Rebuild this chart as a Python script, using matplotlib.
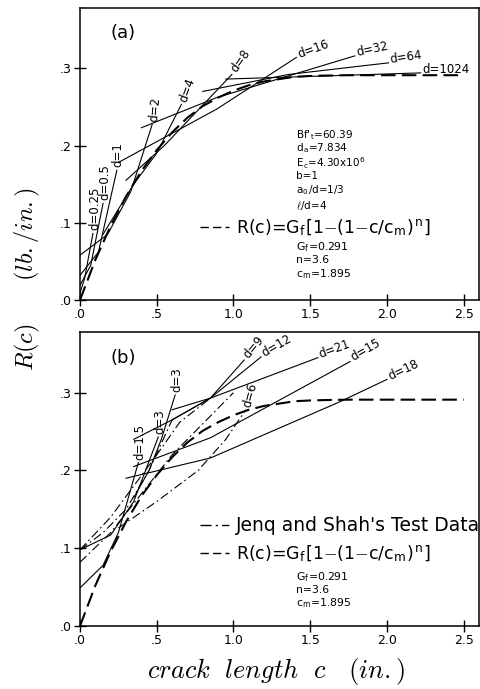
import matplotlib
matplotlib.use('Agg')
import matplotlib.pyplot as plt
from matplotlib.lines import Line2D

plt.rcParams['mathtext.fontset'] = 'cm'
plt.rcParams['font.family'] = 'DejaVu Sans'

# R-curve, same in both panels
r_c = [0.0, 0.1, 0.2, 0.3, 0.4, 0.5, 0.6, 0.7, 0.8, 0.9, 1.0, 1.1, 1.2,
       1.3, 1.4, 1.5, 1.6, 1.75, 1.9, 2.5]
r_val = [0.0, 0.052, 0.096, 0.134, 0.167, 0.194, 0.217, 0.236, 0.251,
         0.262, 0.271, 0.278, 0.283, 0.286, 0.289, 0.290, 0.2905, 0.291,
         0.291, 0.291]

# panel (a): G curves for several sizes d
a_labels = ['d=0.25', 'd=0.5', 'd=1', 'd=2', 'd=4', 'd=8', 'd=16',
            'd=32', 'd=64', 'd=1024']
a_c = [[0.0, 0.03, 0.084],
       [0.0, 0.07, 0.15],
       [0.0, 0.12, 0.24],
       [0.0, 0.18, 0.33, 0.47],
       [0.15, 0.35, 0.5, 0.66],
       [0.3, 0.55, 0.99],
       [0.25, 0.89, 1.41],
       [0.40, 0.89, 1.79],
       [0.8, 1.36, 2.01],
       [0.95, 2.22]]
a_r = [[0.009, 0.028, 0.086],
       [0.019, 0.045, 0.125],
       [0.032, 0.062, 0.168],
       [0.058, 0.085, 0.14, 0.227],
       [0.085, 0.15, 0.19, 0.253],
       [0.155, 0.2, 0.292],
       [0.178, 0.247, 0.314],
       [0.223, 0.262, 0.316],
       [0.27, 0.292, 0.307],
       [0.286, 0.294]]
a_rot = [90, 90, 90, 85, 70, 55, 20, 12, 8, 0]

# panel (b): sizes of Jenq and Shah's specimens
b_labels = ['d=1.5', 'd=3', 'd=3', 'd=9', 'd=12', 'd=21', 'd=15', 'd=18']
b_c = [[0.0, 0.15, 0.25, 0.38],
       [0.0, 0.2, 0.35, 0.51],
       [0.35, 0.45, 0.53, 0.62],
       [0.6, 0.85, 1.07],
       [0.6, 0.85, 1.18],
       [0.35, 0.6, 0.85, 1.55],
       [0.35, 0.85, 1.76],
       [0.3, 0.85, 1.69, 2.0]]
b_r = [[0.049, 0.078, 0.12, 0.21],
       [0.098, 0.117, 0.16, 0.243],
       [0.165, 0.2, 0.24, 0.297],
       [0.265, 0.293, 0.342],
       [0.278, 0.293, 0.346],
       [0.24, 0.265, 0.293, 0.345],
       [0.205, 0.242, 0.34],
       [0.19, 0.216, 0.288, 0.317]]
b_rot = [90, 90, 90, 50, 30, 20, 30, 25]

# Jenq and Shah's test data (dash-dot)
js_label = 'd=6'
js_c = [[0.0, 0.2, 0.35, 0.5, 0.65, 0.85],
        [0.0, 0.2, 0.4, 0.6, 0.85, 1.0],
        [0.25, 0.5, 0.77, 0.95, 1.08],
        [0.0, 0.15, 0.3, 0.45, 0.6]]
js_r = [[0.098, 0.14, 0.18, 0.22, 0.262, 0.293],
        [0.082, 0.12, 0.17, 0.22, 0.27, 0.30],
        [0.126, 0.16, 0.2, 0.24, 0.278],
        [0.098, 0.12, 0.15, 0.2, 0.265]]

formula = r'R(c)=G$_\mathregular{f}$[1$-$(1$-$c/c$_\mathregular{m}$)$^\mathregular{n}$]'

fig = plt.figure(figsize=(4.8, 6.89), dpi=100)
ax1 = fig.add_axes([80/480, 1 - 300/689, 399/480, 292/689])
ax2 = fig.add_axes([80/480, 1 - 626/689, 399/480, 294/689])

for ax in (ax1, ax2):
    ax.set_xlim(0, 2.6)
    ax.set_ylim(0, 0.378)
    ax.set_xticks([0, 0.5, 1.0, 1.5, 2.0, 2.5])
    ax.set_xticklabels(['.0', '.5', '1.0', '1.5', '2.0', '2.5'])
    ax.set_yticks([0, 0.1, 0.2, 0.3])
    ax.set_yticklabels(['.0', '.1', '.2', '.3'])
    ax.tick_params(direction='inout', length=8, width=1, labelsize=9, pad=2)
    for s in ax.spines.values():
        s.set_linewidth(1.1)
    ax.plot(r_c, r_val, color='black', lw=1.5, dashes=(7, 3))

# panel (a)
for lab, cs, rs, rot in zip(a_labels, a_c, a_r, a_rot):
    ax1.plot(cs, rs, color='black', lw=0.8)
    ax1.text(cs[-1] + 0.01, rs[-1] + 0.004, lab, rotation=rot,
             rotation_mode='anchor', ha='left', va='center', fontsize=8.5)

ax1.text(0.2, 0.345, '(a)', fontsize=13, ha='left', va='center')
params_a = [r"Bf'$_\mathregular{t}$=60.39", r'd$_\mathregular{a}$=7.834',
            r'E$_\mathregular{c}$=4.30x10$^\mathregular{6}$', 'b=1',
            r'a$_\mathregular{0}$/d=1/3', r'$\ell$/d=4']
params_y = [0.2134, 0.1966, 0.1775, 0.1604, 0.1423, 0.1229]
for t, y in zip(params_a, params_y):
    ax1.text(1.41, y, t, fontsize=7.5, va='center')
for i, t in enumerate(['G$_\\mathregular{f}$=0.291', 'n=3.6',
                       'c$_\\mathregular{m}$=1.895']):
    ax1.text(1.41, 0.069 - 0.0175 * i, t, fontsize=7.8, va='center')
h_r = Line2D([], [], color='black', lw=1.0, dashes=(6, 3))
ax1.legend([h_r], [formula], loc='center left', bbox_to_anchor=(0.30, 0.247),
           frameon=False, fontsize=12.5, handlelength=1.7, handletextpad=0.4,
           borderpad=0, borderaxespad=0)

# panel (b)
for cs, rs in zip(js_c, js_r):
    ax2.plot(cs, rs, color='black', lw=0.8, dashes=(8, 3, 1.5, 3))
ax2.text(js_c[2][-1] + 0.01, js_r[2][-1] + 0.004, js_label, rotation=75,
         rotation_mode='anchor', ha='left', va='center', fontsize=8.5)
for lab, cs, rs, rot in zip(b_labels, b_c, b_r, b_rot):
    ax2.plot(cs, rs, color='black', lw=0.8)
    ax2.text(cs[-1] + 0.01, rs[-1] + 0.004, lab, rotation=rot,
             rotation_mode='anchor', ha='left', va='center', fontsize=8.5)

ax2.text(0.2, 0.345, '(b)', fontsize=13, ha='left', va='center')
for i, t in enumerate(['G$_\\mathregular{f}$=0.291', 'n=3.6',
                       'c$_\\mathregular{m}$=1.895']):
    ax2.text(1.41, 0.063 - 0.0167 * i, t, fontsize=7.8, va='center')
h_js = Line2D([], [], color='black', lw=1.0, dashes=(8, 3, 1.5, 3))
leg = ax2.legend([h_js, h_r], ["Jenq and Shah's Test Data", formula],
                 loc='center left', bbox_to_anchor=(0.30, 0.292),
                 frameon=False, fontsize=12.5, handlelength=1.7,
                 handletextpad=0.4, labelspacing=0.45,
                 borderpad=0, borderaxespad=0)
leg.get_texts()[0].set_fontsize(13.5)

fig.text(0.058, 0.595, r'$R(c)\qquad(lb./in.)$', rotation=90,
         ha='center', va='center', fontsize=17.5)
fig.text(0.575, 0.025, r'$crack\ \ length\ \ c\quad(in.)$',
         ha='center', va='center', fontsize=19)

fig.savefig('out.png', dpi=100)
